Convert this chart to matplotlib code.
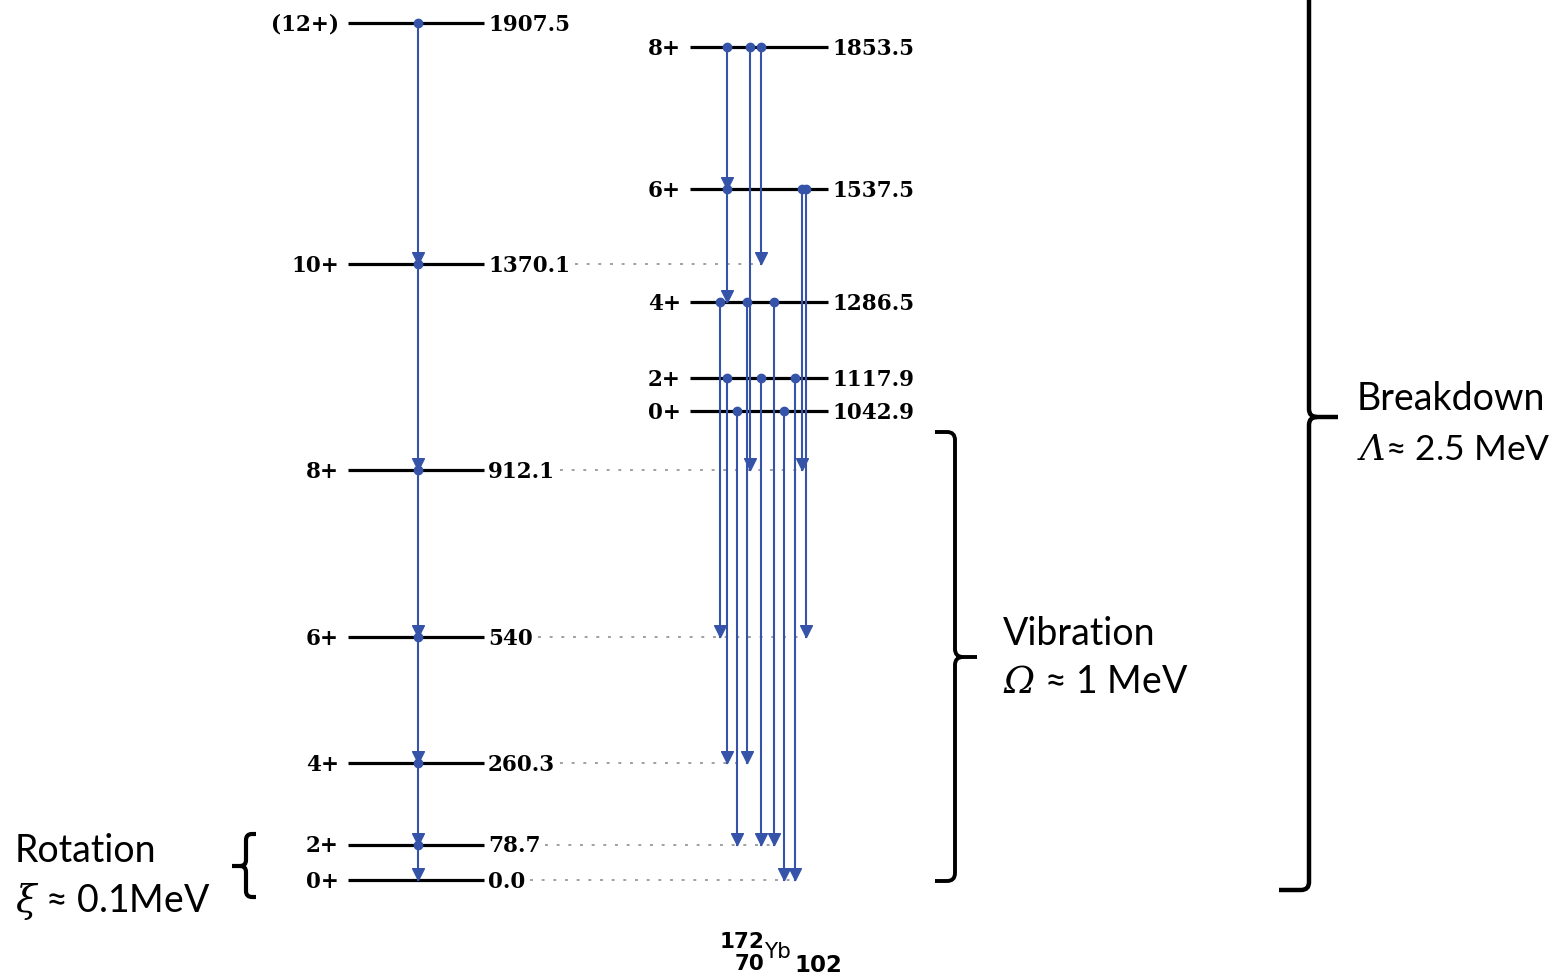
import numpy as np
import matplotlib
matplotlib.use("Agg")
import matplotlib.pyplot as plt
from matplotlib.path import Path
from matplotlib.patches import PathPatch

# greek symbols in italic serif (capital greek is forced to "rm" by mathtext)
plt.rcParams["mathtext.fontset"] = "custom"
plt.rcParams["mathtext.rm"] = "DejaVu Serif:italic"
plt.rcParams["mathtext.it"] = "DejaVu Serif:italic"

# ground-state band of 172Yb (keV)
gsb_energy = [0.0, 78.7, 260.3, 540.0, 912.1, 1370.1, 1907.5]
gsb_spin = ["0+", "2+", "4+", "6+", "8+", "10+", "(12+)"]
gsb_label = ["0.0", "78.7", "260.3", "540", "912.1", "1370.1", "1907.5"]

# higher-lying levels
vib_energy = [1042.9, 1117.9, 1286.5, 1537.5, 1853.5]
vib_spin = ["0+", "2+", "4+", "6+", "8+"]
vib_label = ["1042.9", "1117.9", "1286.5", "1537.5", "1853.5"]

# gamma transitions (initial -> final level, keV)
gsb_from = [1907.5, 1370.1, 912.1, 540.0, 260.3, 78.7]
gsb_to = [1370.1, 912.1, 540.0, 260.3, 78.7, 0.0]
vib_from = [1853.5, 1537.5, 1853.5, 1853.5, 1537.5, 1537.5, 1286.5,
            1286.5, 1286.5, 1117.9, 1117.9, 1117.9, 1042.9, 1042.9]
vib_to = [1537.5, 1286.5, 912.1, 1370.1, 912.1, 540.0, 540.0,
          260.3, 78.7, 260.3, 78.7, 0.0, 78.7, 0.0]

# layout (pixel columns)
GSB_X0, GSB_X1, GSB_COL = 348, 484, 418
VIB_X0, VIB_X1 = 690, 828
vib_col = [727, 727, 750, 761, 802, 806, 720, 747, 774, 727, 761, 795, 737, 784]

BLUE = "#3553a8"
LVL_FONT = dict(family="DejaVu Serif", weight="bold", fontsize=15.5)

# arrow head with its tip at the data point
HEAD = Path([(-0.5, 1.0), (0.5, 1.0), (0.0, 0.0), (-0.5, 1.0)],
            [Path.MOVETO, Path.LINETO, Path.LINETO, Path.CLOSEPOLY])

fig = plt.figure(figsize=(15.56, 9.74), dpi=100)
ax = fig.add_axes([0, 0, 1, 1])
ax.set_xlim(0, 1556)
ax.set_ylim(-209.2, 1958.6)
ax.axis("off")


def draw_levels(energies, spins, labels, x0, x1):
    texts = {}
    for e, s, lab in zip(energies, spins, labels):
        ax.plot([x0, x1], [e, e], color="black", lw=2.3, solid_capstyle="butt", zorder=3)
        ax.annotate(s, (x0 - 9, e), xytext=(0, -5.6), textcoords="offset points",
                    ha="right", va="baseline", **LVL_FONT)
        texts[e] = ax.annotate(lab, (x1 + 4, e), xytext=(0, -5.6), textcoords="offset points",
                               ha="left", va="baseline", **LVL_FONT)
    return texts


def draw_gamma(x, e_from, e_to):
    ax.plot([x, x], [e_from, e_to], color=BLUE, lw=1.5, zorder=4)
    ax.plot([x], [e_from], marker="o", ms=6, color=BLUE, mec=BLUE, zorder=5)
    ax.plot([x], [e_to], marker=HEAD, ms=17, color=BLUE, mec=BLUE, zorder=5)


gsb_texts = draw_levels(gsb_energy, gsb_spin, gsb_label, GSB_X0, GSB_X1)
draw_levels(vib_energy, vib_spin, vib_label, VIB_X0, VIB_X1)

for a, b in zip(gsb_from, gsb_to):
    draw_gamma(GSB_COL, a, b)
for x, a, b in zip(vib_col, vib_from, vib_to):
    draw_gamma(x, a, b)

# dotted guide lines from ground-band labels to the feeding transitions
fig.canvas.draw()
rend = fig.canvas.get_renderer()
inv = ax.transData.inverted()
for e, t in gsb_texts.items():
    ends = [x for x, b in zip(vib_col, vib_to) if b == e]
    if not ends:
        continue
    bb = t.get_window_extent(rend)
    xs = inv.transform((bb.x1, 0))[0] + 5
    ax.plot([xs, max(ends)], [e, e], color="#a0a0a0", lw=1.4,
            ls=(0, (1.5, 4.5)), zorder=1)

# annotation layer in pixel coordinates
ov = fig.add_axes([0, 0, 1, 1])
ov.set_xlim(0, 1556)
ov.set_ylim(974, 0)
ov.axis("off")


def brace(x, y0, ym, y1, hook, tip, s=1, r=8, lw=2.8):
    verts = [(x - s * hook, y0), (x - s * r, y0), (x, y0), (x, y0 + r),
             (x, ym - r), (x, ym), (x + s * r, ym), (x + s * tip, ym),
             (x + s * r, ym), (x, ym), (x, ym + r),
             (x, y1 - r), (x, y1), (x - s * r, y1), (x - s * hook, y1)]
    codes = [Path.MOVETO, Path.LINETO, Path.CURVE3, Path.CURVE3,
             Path.LINETO, Path.CURVE3, Path.CURVE3, Path.LINETO,
             Path.MOVETO, Path.CURVE3, Path.CURVE3,
             Path.LINETO, Path.CURVE3, Path.CURVE3, Path.LINETO]
    ov.add_patch(PathPatch(Path(verts, codes), fill=False, lw=lw,
                           edgecolor="black", capstyle="butt", joinstyle="round"))


brace(246, 834, 866, 897, hook=10, tip=14, s=-1, r=6, lw=3)
brace(955, 432, 657, 881, hook=20, tip=22, r=8, lw=2.8)
brace(1309, -30, 417, 890, hook=30, tip=29, r=8, lw=3.2)

ANN = dict(family=["Lato", "DejaVu Sans"], va="baseline", ha="left")
ov.text(15, 862, "Rotation", fontsize=27, **ANN)
ov.text(15, 912, r"$\xi$ ≈ 0.1MeV", fontsize=27, **ANN)
ov.text(1003, 645, "Vibration", fontsize=27, **ANN)
ov.text(1003, 693, r"$\Omega$ ≈ 1 MeV", fontsize=27, **ANN)
ov.text(1357, 410, "Breakdown", fontsize=27, **ANN)
ov.text(1357, 460, r"$\Lambda$≈ 2.5 MeV", fontsize=25.5, **ANN)

# nuclide label
NUC = dict(family="DejaVu Sans", weight="bold", va="baseline")
ov.text(720, 948, "172", ha="left", fontsize=15.5, **NUC)
ov.text(764, 970, "70", ha="right", fontsize=15.5, **NUC)
ov.text(764, 958, "Yb", ha="left", family="DejaVu Sans", fontsize=15.5, va="baseline")
ov.text(794, 972, "102", ha="left", fontsize=16.5, **NUC)

fig.savefig("out.png", dpi=100, facecolor="white")
